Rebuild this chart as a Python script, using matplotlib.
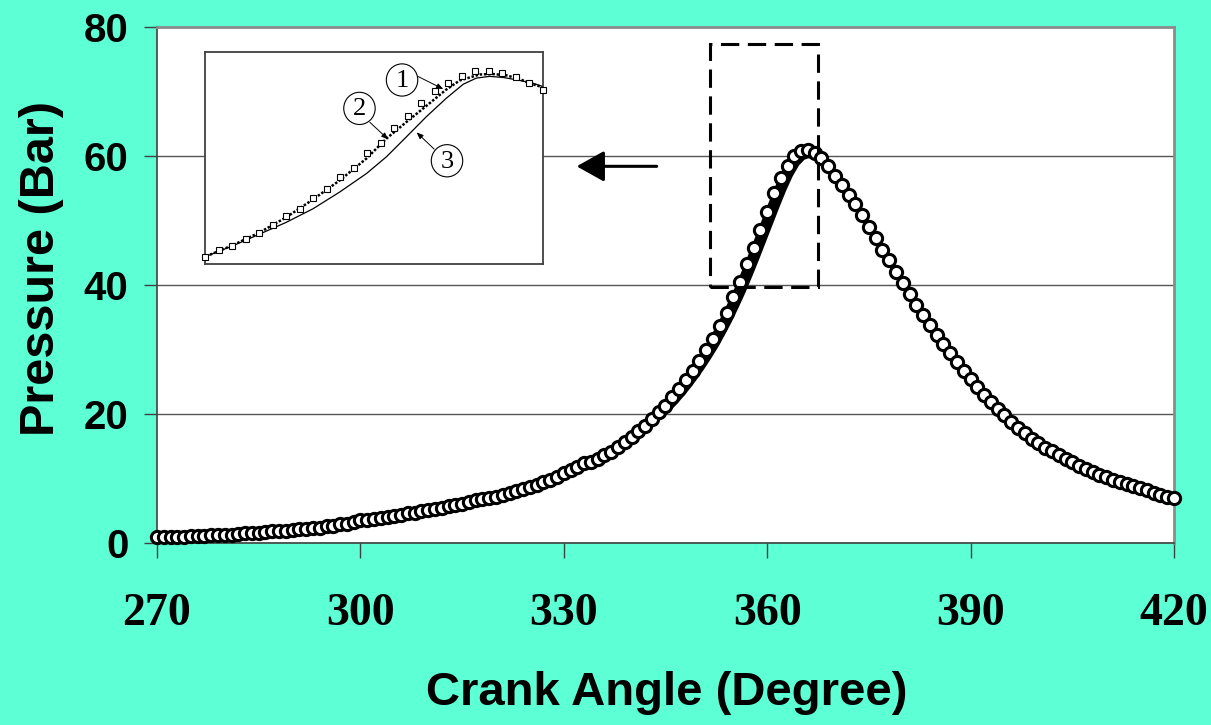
import matplotlib
matplotlib.use("Agg")
import matplotlib.pyplot as plt
from matplotlib.patches import Rectangle, Ellipse

# ---------------- data ----------------
crank_angle = list(range(270, 421))
pressure_exp = [
    0.9, 0.9, 1.0, 1.0, 1.0, 1.1, 1.1, 1.1, 1.2, 1.2,          # 270-279
    1.2, 1.3, 1.4, 1.5, 1.5, 1.6, 1.7, 1.8, 1.8, 1.9,          # 280-289
    2.0, 2.1, 2.2, 2.3, 2.4, 2.6, 2.7, 2.9, 3.0, 3.3,          # 290-299
    3.5, 3.6, 3.7, 3.9, 4.0, 4.2, 4.4, 4.6, 4.7, 4.9,          # 300-309
    5.1, 5.3, 5.5, 5.7, 5.9, 6.1, 6.3, 6.6, 6.8, 7.0,          # 310-319
    7.2, 7.5, 7.8, 8.1, 8.4, 8.7, 9.0, 9.4, 9.8, 10.3,         # 320-329
    10.9, 11.3, 11.8, 12.4, 12.6, 13.1, 13.6, 14.1, 14.9, 15.6,  # 330-339
    16.4, 17.3, 18.2, 19.2, 20.3, 21.3, 22.6, 23.9, 25.3, 26.7,  # 340-349
    28.2, 29.9, 31.6, 33.6, 35.7, 38.2, 40.5, 43.3, 45.8, 48.6,  # 350-359
    51.3, 54.2, 56.6, 58.4, 60.0, 60.8, 60.9, 60.5, 59.7, 58.4,  # 360-369
    56.9, 55.5, 54.0, 52.5, 50.8, 49.0, 47.3, 45.5, 43.8, 42.0,  # 370-379
    40.3, 38.6, 36.9, 35.3, 33.8, 32.3, 30.8, 29.4, 28.0, 26.7,  # 380-389
    25.4, 24.2, 23.0, 21.9, 20.8, 19.8, 18.8, 17.9, 17.0, 16.2,  # 390-399
    15.5, 14.8, 14.2, 13.6, 13.0, 12.5, 12.0, 11.5, 11.0, 10.6,  # 400-409
    10.2, 9.8, 9.5, 9.1, 8.8, 8.5, 8.2, 7.8, 7.5, 7.2,           # 410-419
    6.9,                                                         # 420
]

# simulated curve hidden under the markers (dark band on the rising side)
model_angle = list(range(344, 368))
model_pressure = [20.0, 21.0, 22.1, 23.3, 24.6, 26.0, 27.5, 29.1, 30.8, 32.7,
                  34.7, 36.9, 39.2, 41.7, 44.3, 47.0, 49.7, 52.4, 55.0, 57.3,
                  59.1, 60.2, 60.6, 60.4]

# inset (zoomed view, arbitrary normalised units 0-100)
inset_x_exp = list(range(0, 101, 4))
inset_y_exp = [3.2, 6.6, 8.5, 11.8, 14.7, 18.2, 22.6, 26.1, 31.1, 35.2, 40.9,
               45.3, 52.3, 57.3, 64.0, 69.7, 75.8, 81.4, 85.3, 88.9, 91.2, 91.2,
               90.0, 88.2, 85.3, 82.1]
inset_x_m2 = [0.3, 8.4, 16.3, 24.1, 32.0, 39.9, 47.8, 53.7, 59.6, 65.5, 71.4,
              75.4, 81.3, 85.2, 89.2, 93.1, 97.0, 100.0]
inset_y_m2 = [3.6, 9.0, 15.0, 22.1, 30.5, 39.5, 49.8, 59.2, 67.0, 74.6, 82.3,
              86.6, 89.4, 89.6, 89.0, 87.2, 84.8, 83.3]
inset_x_m3 = [0.3, 8.4, 16.3, 24.1, 32.0, 39.9, 47.8, 53.7, 59.6, 65.5, 71.4,
              76.4, 80.3, 84.2, 88.2, 92.1, 97.0, 100.0]
inset_y_m3 = [3.6, 8.7, 14.2, 19.7, 26.1, 34.0, 42.7, 50.6, 60.0, 69.5, 78.2,
              84.8, 87.7, 88.5, 88.0, 86.9, 85.3, 83.7]
inset_labels = ["1", "2", "3"]

x_ticks = [270, 300, 330, 360, 390, 420]
y_ticks = [0, 20, 40, 60, 80]

BG = "#5dffd5"

fig = plt.figure(figsize=(12.11, 7.25), dpi=100, facecolor=BG)
ax = fig.add_axes([157 / 1211, 1 - 543 / 725, (1174 - 157) / 1211, (543 - 27) / 725])
ax.set_facecolor("white")

ax.set_xlim(270, 420)
ax.set_ylim(0, 80)
ax.set_xticks(x_ticks)
ax.set_yticks(y_ticks)
ax.yaxis.grid(True, color="#555555", lw=1.0)
ax.set_axisbelow(True)

for s in ["top", "right"]:
    ax.spines[s].set_color("#8c8c8c")
    ax.spines[s].set_linewidth(2.0)
for s in ["left", "bottom"]:
    ax.spines[s].set_color("#404040")
    ax.spines[s].set_linewidth(1.2)

ax.tick_params(axis="x", direction="out", length=11, width=1.0, color="#404040",
               pad=25)
ax.tick_params(axis="y", direction="out", length=9.5, width=1.0, color="#404040",
               pad=11)
for lab in ax.get_xticklabels():
    lab.set_fontfamily("Liberation Serif")
    lab.set_fontweight("bold")
    lab.set_fontsize(33)
for lab in ax.get_yticklabels():
    lab.set_fontfamily("Liberation Sans")
    lab.set_fontweight("bold")
    lab.set_fontsize(29)

# simulated curve (under markers)
ax.plot(model_angle, model_pressure, color="black", lw=8.5, solid_capstyle="round",
        zorder=3)
# experimental markers
ax.plot(crank_angle, pressure_exp, linestyle="none", marker="o", markersize=8.8,
        markerfacecolor="white", markeredgecolor="black", markeredgewidth=2.2,
        zorder=4, clip_on=False)

# dashed zoom box
ax.add_patch(Rectangle((351.6, 39.7), 367.5 - 351.6, 77.4 - 39.7, fill=False,
                       edgecolor="black", lw=2.2, linestyle=(0, (6, 2.8)), zorder=5))

# arrow pointing to inset
ax.annotate("", xy=(331.9, 58.4), xytext=(343.7, 58.4),
            arrowprops=dict(arrowstyle="-|>,head_length=1.7,head_width=0.95",
                            mutation_scale=10, lw=2.2, color="black",
                            shrinkA=0, shrinkB=0), zorder=6)

# axis labels
fig.text(42 / 1211, 1 - 268 / 725, "Pressure (Bar)", rotation=90, ha="center",
         va="center", fontsize=35, fontweight="bold", family="Liberation Sans")
fig.text(667 / 1211, 1 - 693 / 725, "Crank Angle (Degree)", ha="center",
         va="center", fontsize=34, fontweight="bold", family="Liberation Sans")

# ---------------- inset ----------------
ins = fig.add_axes([205 / 1211, 1 - 264 / 725, (543 - 205) / 1211, (264 - 52) / 725])
ins.set_facecolor("white")
ins.set_zorder(10)
ins.set_xlim(0, 100)
ins.set_ylim(0, 100)
ins.set_xticks([])
ins.set_yticks([])
for s in ins.spines.values():
    s.set_color("#404040")
    s.set_linewidth(1.3)

ins.plot(inset_x_m3, inset_y_m3, color="black", lw=0.9)
ins.plot(inset_x_m2, inset_y_m2, color="black", lw=1.8, linestyle=(0, (1, 0.7)))
ins.plot(inset_x_exp, inset_y_exp, linestyle="none", marker="s", markersize=4.6,
         markerfacecolor="white", markeredgecolor="black", markeredgewidth=0.8,
         clip_on=False, zorder=5)

label_pos = [(58.3, 86.8), (45.7, 73.4), (71.6, 48.7)]
arrow_from = [(63.1, 88.4), (48.8, 66.8), (67.8, 54.2)]
arrow_to = [(70.5, 82.5), (54.2, 58.8), (62.6, 62.1)]
for lab, (cx, cy), a0, a1 in zip(inset_labels, label_pos, arrow_from, arrow_to):
    ins.add_patch(Ellipse((cx, cy), 9.3, 15.2, facecolor="white",
                          edgecolor="black", lw=0.8, zorder=6))
    ins.text(cx, cy - 0.5, lab, ha="center", va="center", fontsize=19,
             family="Liberation Serif", zorder=7)
    ins.annotate("", xy=a1, xytext=a0,
                 arrowprops=dict(arrowstyle="-|>,head_length=0.5,head_width=0.2",
                                 mutation_scale=8, lw=0.7, color="black",
                                 shrinkA=0, shrinkB=0), zorder=7)

fig.savefig("out.png", dpi=100, facecolor=BG)
